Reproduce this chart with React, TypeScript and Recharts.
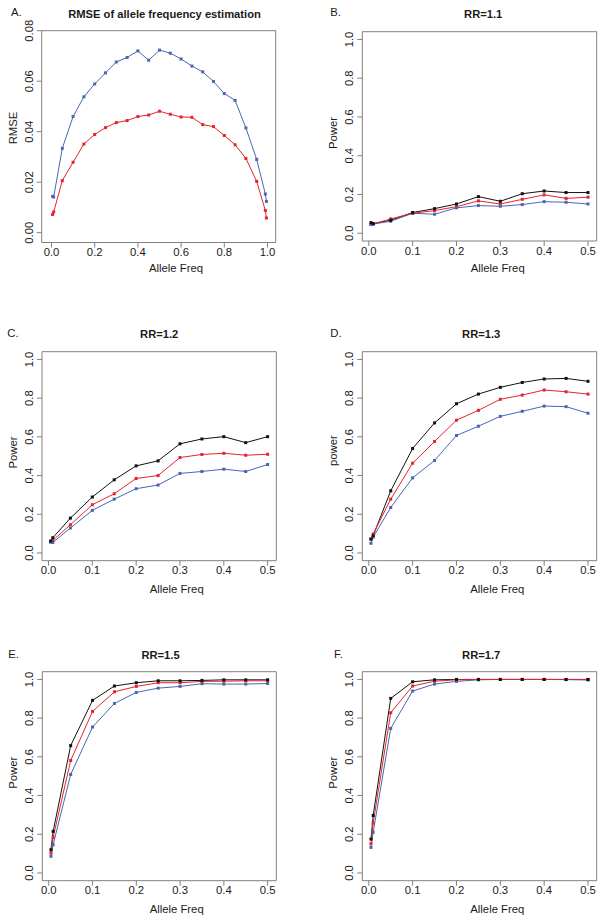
import React from "react";
import { LineChart, Line, XAxis, YAxis, ReferenceArea } from "recharts";

const FONT = '"Liberation Sans", Arial, Helvetica, sans-serif';
const TEXT = "#1a1a1a";
const FRAME = "#808080";
const C_BLACK = "#111111";
const C_RED = "#e5242c";
const C_BLUE = "#4a66b0";

// Panel A: RMSE
const xA = [0.005, 0.01, 0.05, 0.1, 0.15, 0.2, 0.25, 0.3, 0.35, 0.4, 0.45, 0.5, 0.55, 0.6, 0.65, 0.7, 0.75, 0.8, 0.85, 0.9, 0.95, 0.99, 0.995];
const rmseBlue = [0.0144, 0.0141, 0.0334, 0.046, 0.0538, 0.0589, 0.0633, 0.0676, 0.0694, 0.072, 0.0683, 0.0723, 0.0711, 0.0688, 0.066, 0.0637, 0.0599, 0.0551, 0.0524, 0.0415, 0.029, 0.0153, 0.0124];
const rmseRed = [0.0072, 0.0082, 0.0206, 0.0279, 0.0351, 0.0389, 0.0416, 0.0436, 0.0444, 0.046, 0.0466, 0.0481, 0.0469, 0.0458, 0.0457, 0.0428, 0.042, 0.0385, 0.0348, 0.0294, 0.0203, 0.0088, 0.0058];

// Power panels
const xP = [0.005, 0.01, 0.05, 0.1, 0.15, 0.2, 0.25, 0.3, 0.35, 0.4, 0.45, 0.5];

const bBlack = [0.055, 0.05, 0.067, 0.107, 0.127, 0.151, 0.189, 0.165, 0.204, 0.218, 0.21, 0.21];
const bRed = [0.047, 0.048, 0.074, 0.103, 0.117, 0.137, 0.167, 0.151, 0.175, 0.198, 0.18, 0.186];
const bBlue = [0.045, 0.047, 0.062, 0.103, 0.098, 0.131, 0.143, 0.139, 0.148, 0.163, 0.16, 0.151];

const cBlack = [0.062, 0.079, 0.18, 0.289, 0.378, 0.45, 0.476, 0.564, 0.589, 0.601, 0.57, 0.601];
const cRed = [0.058, 0.065, 0.146, 0.249, 0.306, 0.385, 0.4, 0.493, 0.509, 0.515, 0.505, 0.51];
const cBlue = [0.056, 0.054, 0.129, 0.22, 0.278, 0.332, 0.351, 0.411, 0.421, 0.433, 0.421, 0.457];

const dBlack = [0.072, 0.089, 0.321, 0.54, 0.672, 0.771, 0.821, 0.856, 0.881, 0.899, 0.902, 0.887];
const dRed = [0.072, 0.098, 0.278, 0.464, 0.576, 0.686, 0.737, 0.794, 0.816, 0.842, 0.833, 0.821];
const dBlue = [0.05, 0.082, 0.235, 0.388, 0.478, 0.607, 0.655, 0.706, 0.732, 0.759, 0.756, 0.722];

const eBlack = [0.12, 0.215, 0.658, 0.892, 0.966, 0.983, 0.993, 0.993, 0.995, 0.998, 0.998, 0.998];
const eRed = [0.103, 0.184, 0.581, 0.835, 0.936, 0.964, 0.983, 0.983, 0.99, 0.991, 0.993, 0.993];
const eBlue = [0.086, 0.146, 0.509, 0.754, 0.876, 0.933, 0.955, 0.964, 0.978, 0.976, 0.976, 0.979];

const fBlack = [0.175, 0.297, 0.902, 0.988, 0.998, 1.0, 1.0, 1.0, 1.0, 1.0, 1.0, 1.0];
const fRed = [0.151, 0.258, 0.828, 0.966, 0.991, 0.998, 1.0, 1.0, 1.0, 1.0, 1.0, 1.0];
const fBlue = [0.132, 0.21, 0.747, 0.94, 0.976, 0.99, 0.998, 1.0, 1.0, 1.0, 0.999, 0.997];

const ticksA = [0, 0.2, 0.4, 0.6, 0.8, 1.0];
const ticksAy = [0, 0.02, 0.04, 0.06, 0.08];
const ticksP = [0, 0.1, 0.2, 0.3, 0.4, 0.5];
const ticksPy = [0, 0.2, 0.4, 0.6, 0.8, 1.0];

const rowsA = xA.map((x, i) => ({ x, b: rmseBlue[i], r: rmseRed[i] }));
const mkRows = (k: number[], r: number[], b: number[]) => xP.map((x, i) => ({ x, k: k[i], r: r[i], b: b[i] }));

const FS = 11.3;

function makeXTick(dec: number) {
  return (props: any) => {
    const { x, y, payload } = props;
    return (
      <text x={x} y={y} dy={8.5} textAnchor="middle" fontSize={FS} fontFamily={FONT} fill={TEXT}>
        {Number(payload.value).toFixed(dec)}
      </text>
    );
  };
}

function makeYTick(dec: number) {
  return (props: any) => {
    const { x, y, payload } = props;
    const bx = x - 4;
    return (
      <text x={bx} y={y} transform={`rotate(-90, ${bx}, ${y})`} textAnchor="middle" fontSize={FS} fontFamily={FONT} fill={TEXT}>
        {Number(payload.value).toFixed(dec)}
      </text>
    );
  };
}

const makeDot = (color: string) => (p: any) => {
  if (p.cx == null || p.cy == null) return <g key={`e-${p.index}`} />;
  return <rect key={`d-${p.dataKey}-${p.index}`} x={p.cx - 1.5} y={p.cy - 1.5} width={3} height={3} fill={color} />;
};

type Frame = { left: number; top: number; width: number; height: number };
type Box = { l: number; t: number; r: number; b: number };

function Panel(props: {
  frame: Frame;
  box: Box;
  xDomain: [number, number];
  yDomain: [number, number];
  xTicks: number[];
  yTicks: number[];
  xDec: number;
  yDec: number;
  data: any[];
  keys: { key: string; color: string }[];
}) {
  const { frame, box, xDomain, yDomain, xTicks, yTicks, xDec, yDec, data, keys } = props;
  const margin = {
    top: box.t - frame.top,
    right: frame.left + frame.width - box.r,
    left: 0,
    bottom: 0,
  };
  const yW = box.l - frame.left;
  const xH = frame.top + frame.height - box.b;
  const lineOrder = keys;
  const dotOrder = [...keys].reverse();
  return (
    <div style={{ position: "absolute", left: frame.left, top: frame.top }}>
      <LineChart width={frame.width} height={frame.height} data={data} margin={margin}>
        <XAxis
          dataKey="x"
          type="number"
          domain={xDomain}
          ticks={xTicks}
          interval={0}
          allowDataOverflow
          axisLine={false}
          tickLine={{ stroke: FRAME }}
          tickSize={5}
          tickMargin={0}
          height={xH}
          tick={makeXTick(xDec)}
        />
        <YAxis
          type="number"
          domain={yDomain}
          ticks={yTicks}
          interval={0}
          allowDataOverflow
          axisLine={false}
          tickLine={{ stroke: FRAME }}
          tickSize={5}
          tickMargin={0}
          width={yW}
          tick={makeYTick(yDec)}
        />
        <ReferenceArea
          x1={xDomain[0]}
          x2={xDomain[1]}
          y1={yDomain[0]}
          y2={yDomain[1]}
          fill="none"
          fillOpacity={0}
          stroke={FRAME}
          strokeWidth={1}
          ifOverflow="visible"
        />
        {lineOrder.map((s) => (
          <Line
            key={`l-${s.key}`}
            dataKey={s.key}
            stroke={s.color}
            strokeWidth={1}
            dot={false}
            activeDot={false}
            isAnimationActive={false}
            type="linear"
          />
        ))}
        {dotOrder.map((s) => (
          <Line
            key={`p-${s.key}`}
            dataKey={s.key}
            stroke="none"
            strokeWidth={0}
            dot={makeDot(s.color)}
            activeDot={false}
            isAnimationActive={false}
            type="linear"
          />
        ))}
      </LineChart>
    </div>
  );
}

const PX: [number, number] = [-0.0148, 0.5198];
const PY: [number, number] = [-0.04, 1.04];
const KEYS3 = [
  { key: "k", color: C_BLACK },
  { key: "b", color: C_BLUE },
  { key: "r", color: C_RED },
];

function T(props: { x: number; y: number; children: React.ReactNode; bold?: boolean; anchor?: string; rot?: boolean }) {
  const { x, y, children, bold, anchor, rot } = props;
  return (
    <text
      x={x}
      y={y}
      textAnchor={(anchor as any) || "middle"}
      fontFamily={FONT}
      fontSize={bold ? 11.2 : FS}
      fontWeight={bold ? "bold" : "normal"}
      fill={TEXT}
      transform={rot ? `rotate(-90, ${x}, ${y})` : undefined}
    >
      {children}
    </text>
  );
}

export default function App() {
  return (
    <div style={{ position: "absolute", left: 0, top: 0, width: 607, height: 923, background: "#fff" }}>
      <Panel
        frame={{ left: 0, top: 0, width: 303, height: 300 }}
        box={{ l: 41.7, t: 30.7, r: 275.7, b: 242.5 }}
        xDomain={[-0.0454, 1.038]}
        yDomain={[-0.0039, 0.08]}
        xTicks={ticksA}
        yTicks={ticksAy}
        xDec={1}
        yDec={2}
        data={rowsA}
        keys={[
          { key: "b", color: C_BLUE },
          { key: "r", color: C_RED },
        ]}
      />
      <Panel
        frame={{ left: 303, top: 0, width: 304, height: 300 }}
        box={{ l: 362.3, t: 31.7, r: 596.7, b: 241 }}
        xDomain={PX}
        yDomain={PY}
        xTicks={ticksP}
        yTicks={ticksPy}
        xDec={1}
        yDec={1}
        data={mkRows(bBlack, bRed, bBlue)}
        keys={KEYS3}
      />
      <Panel
        frame={{ left: 0, top: 300, width: 303, height: 310 }}
        box={{ l: 42, t: 351.7, r: 276.3, b: 560.7 }}
        xDomain={PX}
        yDomain={PY}
        xTicks={ticksP}
        yTicks={ticksPy}
        xDec={1}
        yDec={1}
        data={mkRows(cBlack, cRed, cBlue)}
        keys={KEYS3}
      />
      <Panel
        frame={{ left: 303, top: 300, width: 304, height: 310 }}
        box={{ l: 362.3, t: 351.7, r: 596.7, b: 560.7 }}
        xDomain={PX}
        yDomain={PY}
        xTicks={ticksP}
        yTicks={ticksPy}
        xDec={1}
        yDec={1}
        data={mkRows(dBlack, dRed, dBlue)}
        keys={KEYS3}
      />
      <Panel
        frame={{ left: 0, top: 610, width: 303, height: 313 }}
        box={{ l: 42.3, t: 671.7, r: 276.3, b: 880.7 }}
        xDomain={PX}
        yDomain={PY}
        xTicks={ticksP}
        yTicks={ticksPy}
        xDec={1}
        yDec={1}
        data={mkRows(eBlack, eRed, eBlue)}
        keys={KEYS3}
      />
      <Panel
        frame={{ left: 303, top: 610, width: 304, height: 313 }}
        box={{ l: 362.3, t: 671.7, r: 596.7, b: 880.7 }}
        xDomain={PX}
        yDomain={PY}
        xTicks={ticksP}
        yTicks={ticksPy}
        xDec={1}
        yDec={1}
        data={mkRows(fBlack, fRed, fBlue)}
        keys={KEYS3}
      />
      <svg width={607} height={923} style={{ position: "absolute", left: 0, top: 0, pointerEvents: "none" }}>
        {/* panel letters */}
        <T x={11} y={16.3} anchor="start">A.</T>
        <T x={330.3} y={16.3} anchor="start">B.</T>
        <T x={7.3} y={336.5} anchor="start">C.</T>
        <T x={330.3} y={336.7} anchor="start">D.</T>
        <T x={8.3} y={657.7} anchor="start">E.</T>
        <T x={334} y={657.7} anchor="start">F.</T>
        {/* titles */}
        <T x={164.5} y={18} bold>RMSE of allele frequency estimation</T>
        <T x={483.2} y={18} bold>RR=1.1</T>
        <T x={159.2} y={338} bold>RR=1.2</T>
        <T x={481.2} y={338} bold>RR=1.3</T>
        <T x={160.5} y={658.7} bold>RR=1.5</T>
        <T x={481.2} y={658.7} bold>RR=1.7</T>
        {/* x axis titles */}
        <T x={176} y={271.7}>Allele Freq</T>
        <T x={497.7} y={271.7}>Allele Freq</T>
        <T x={176.7} y={592.7}>Allele Freq</T>
        <T x={497.3} y={592.7}>Allele Freq</T>
        <T x={176.7} y={913.3}>Allele Freq</T>
        <T x={497.3} y={913.3}>Allele Freq</T>
        {/* y axis titles */}
        <T x={16.7} y={128} rot>RMSE</T>
        <T x={337.3} y={133} rot>Power</T>
        <T x={16.7} y={452.5} rot>Power</T>
        <T x={337.3} y={450.7} rot>power</T>
        <T x={16.7} y={772.7} rot>Power</T>
        <T x={337.3} y={772.7} rot>Power</T>
      </svg>
    </div>
  );
}
